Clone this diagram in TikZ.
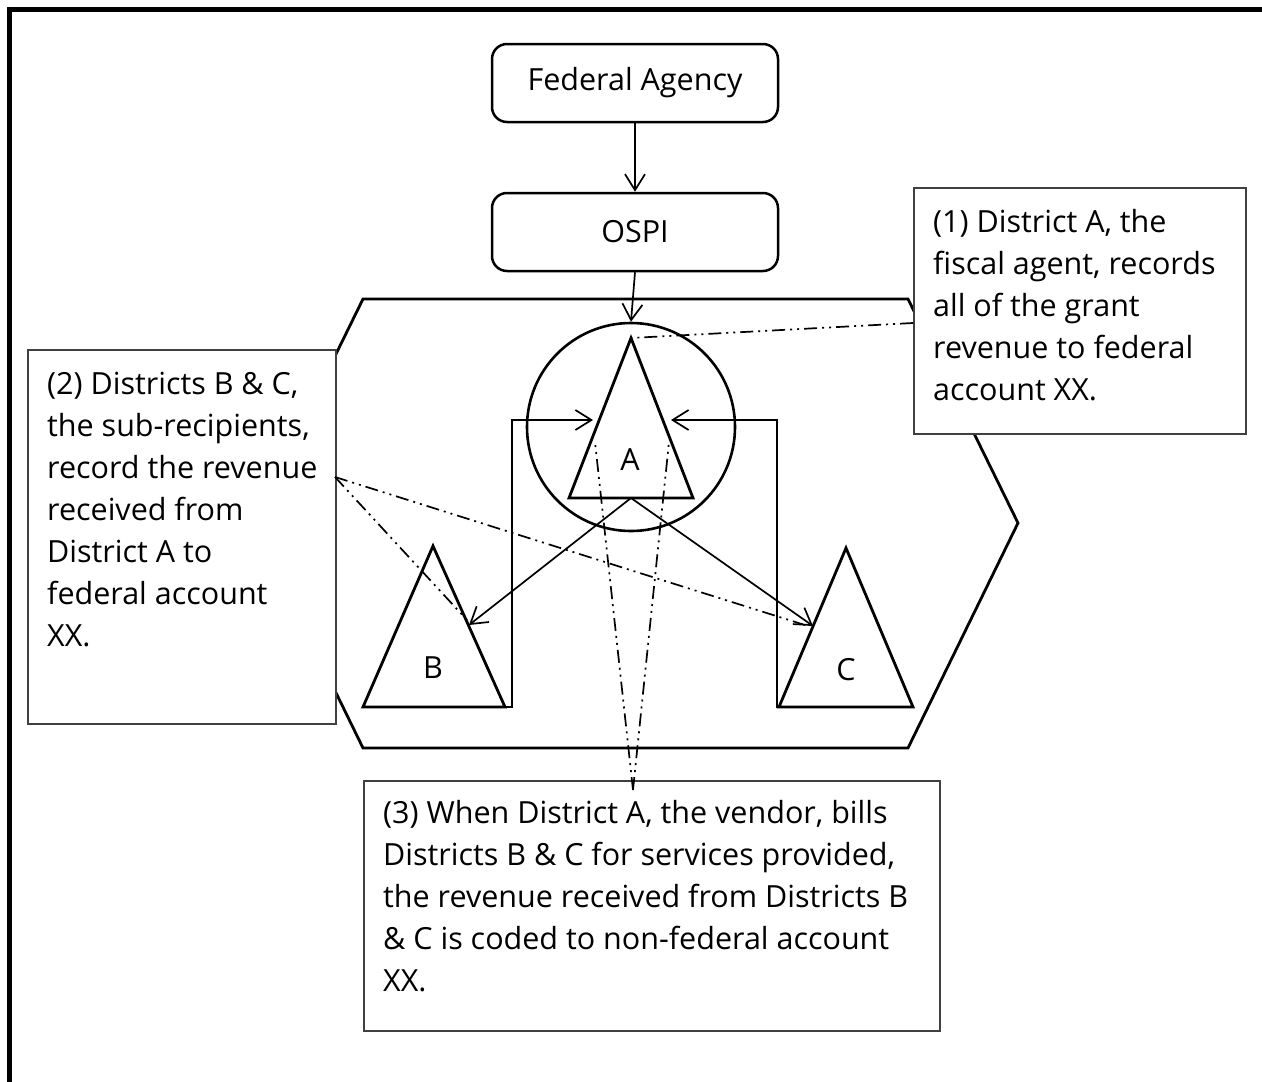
\documentclass[tikz,border=0pt]{standalone}
\usepackage{fontspec}
\setmainfont{Open Sans}
\usetikzlibrary{arrows.meta}

\tikzset{
  frameline/.style={line width=5pt},
  agencybox/.style={draw, rounded corners=15pt, line width=2.5pt, minimum width=286pt,
    minimum height=78pt, inner sep=0pt, font=\fontsize{30.5}{36}\selectfont},
  shapeline/.style={line width=2.8pt, line join=miter},
  flow/.style={line width=1.7pt, -{Straight Barb[length=16pt,width=20pt]}},
  callout/.style={line width=1.7pt, dash pattern=on 13pt off 5pt on 2pt off 5pt on 2pt off 5pt},
  notebox/.style={draw=black!75, line width=1.8pt, fill=white, inner sep=0pt, anchor=north west},
  notetext/.style={font=\fontsize{30.5}{42}\selectfont, align=left, inner sep=0pt, anchor=north west},
  letter/.style={font=\fontsize{30.5}{36}\selectfont, inner sep=0pt}
}

\begin{document}
\begin{tikzpicture}[x=1pt,y=-1pt]
\useasboundingbox (0,0) rectangle (1262,1082);

% page frame (top and left edges)
\draw[frameline] (9,1082) -- (9,9) -- (1262,9);

% hexagon enclosing the districts
\draw[shapeline] (363,299) -- (908,299) -- (1018,523) -- (908,748) -- (363,748) -- (253,523) -- cycle;

% agency boxes
\node[agencybox] (fed) at (635,83) {Federal Agency};
\node[agencybox] (ospi) at (635,232) {OSPI};

% district A inside its circle
\node[draw, circle, line width=2.6pt, minimum size=208pt, inner sep=0pt] (acirc) at (631,427) {};
\coordinate (aTop) at (631,338);
\coordinate (aL) at (569,498);
\coordinate (aR) at (693,498);
\coordinate (aBase) at (631,498);
\draw[shapeline] (aTop) -- (aR) -- (aL) -- cycle;
\node[letter] (aLabel) at (630,460) {A};

% district B
\coordinate (bTop) at (433,546);
\coordinate (bL) at (363,707);
\coordinate (bR) at (505,707);
\draw[shapeline] (bTop) -- (bR) -- (bL) -- cycle;
\node[letter] (bLabel) at (433,668) {B};

% district C
\coordinate (cTop) at (846,548);
\coordinate (cL) at (779,707);
\coordinate (cR) at (913,707);
\draw[shapeline] (cTop) -- (cR) -- (cL) -- cycle;
\node[letter] (cLabel) at (846,670) {C};

% flows between agencies and districts
\draw[flow] (fed.south) -- (ospi.north);
\draw[flow] (ospi.south) -- (acirc.north);
\coordinate (aSideL) at (593,420);
\coordinate (aSideR) at (671,420);
\coordinate (bSide) at (469,625);
\coordinate (cSide) at (813,626);
\draw[flow] (aBase) -- (bSide);
\draw[flow] (aBase) -- (cSide);
\draw[flow] (bR) -- (512,707) -- (512,420) -- (aSideL);
\draw[flow] (cL) -- (777,707) -- (777,420) -- (aSideR);

% note boxes
\node[notebox, minimum width=332pt, minimum height=246pt] (note1) at (913,187) {};
\node[notetext] (text1) at (933,209) {(1) District A, the\\fiscal agent, records\\all of the grant\\revenue to federal\\account XX.};

\node[notebox, minimum width=308pt, minimum height=374pt] (note2) at (27,349) {};
\node[notetext] (text2) at (47,372) {(2) Districts B \& C,\\the sub-recipients,\\record the revenue\\received from\\District A to\\federal account\\XX.};

\node[notebox, minimum width=576pt, minimum height=250pt] (note3) at (363,780) {};
\node[notetext] (text3) at (383,800) {(3) When District A, the vendor, bills\\Districts B \& C for services provided,\\the revenue received from Districts B\\\& C is coded to non-federal account\\XX.};

% callout leaders
\coordinate (n1end) at (913,323);
\coordinate (n2end) at (335,477);
\coordinate (n3end) at (633,790);
\coordinate (aInL) at (595,442);
\coordinate (aInR) at (669,442);
\draw[callout] (n1end) -- (aTop);
\draw[callout] (n2end) -- (467,620);
\draw[callout] (n2end) -- (808,626);
\draw[callout] (n3end) -- (aInL);
\draw[callout] (n3end) -- (aInR);
\end{tikzpicture}
\end{document}
